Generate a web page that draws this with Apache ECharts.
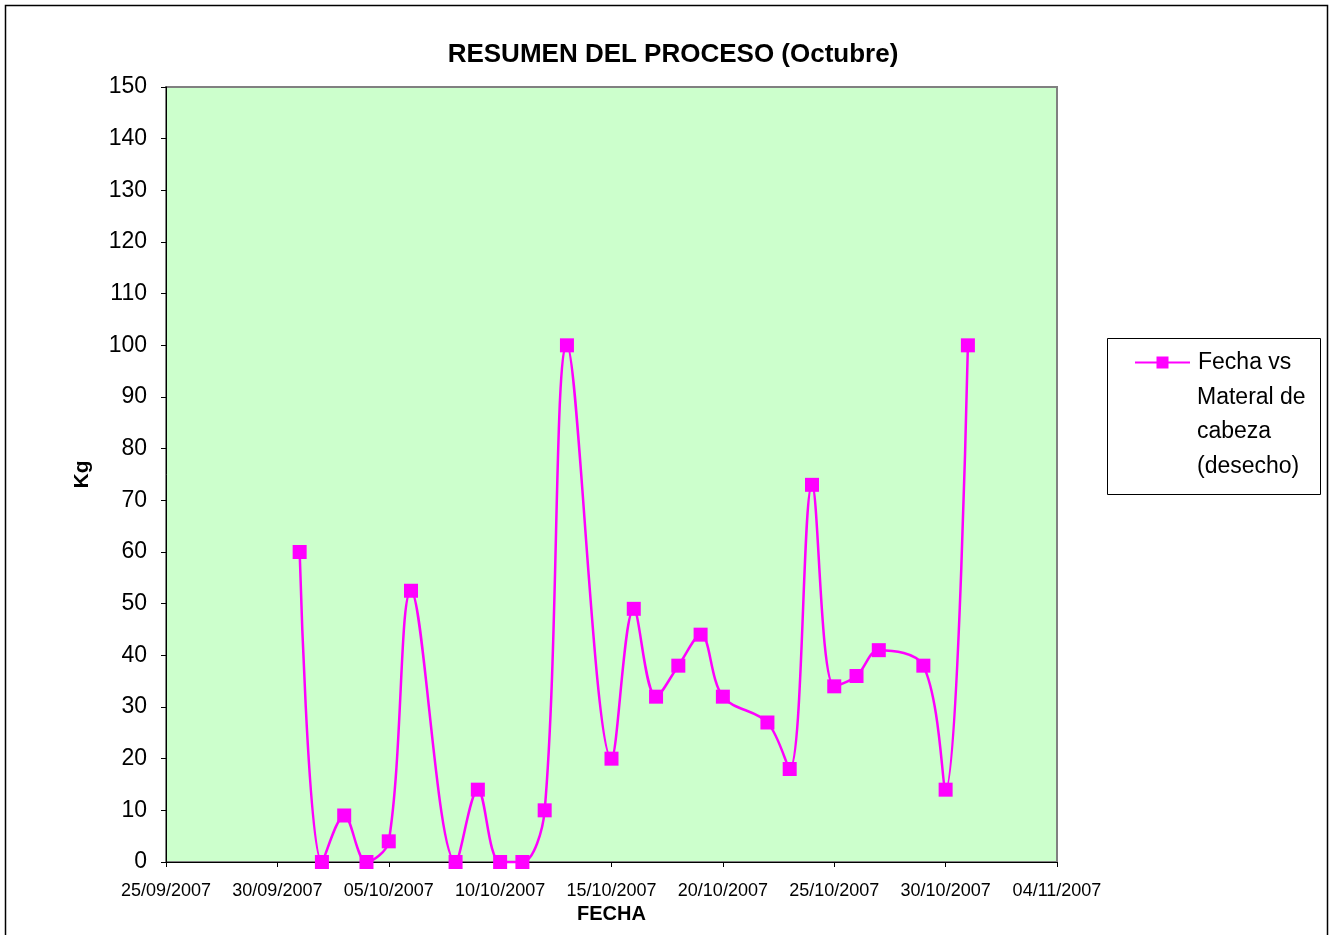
<!DOCTYPE html>
<html>
<head>
<meta charset="utf-8">
<title>RESUMEN DEL PROCESO (Octubre)</title>
<script src="https://cdn.jsdelivr.net/npm/echarts@6/dist/echarts.min.js"></script>
<style>
  html, body { margin: 0; padding: 0; background: #fff; }
  #chart { width: 1334px; height: 935px; }
</style>
</head>
<body>
<div id="chart"></div>
<script>
// 数据
var fechas = ['2007-10-01', '2007-10-02', '2007-10-03', '2007-10-04', '2007-10-05', '2007-10-06',
  '2007-10-08', '2007-10-09', '2007-10-10', '2007-10-11', '2007-10-12', '2007-10-13',
  '2007-10-15', '2007-10-16', '2007-10-17', '2007-10-18', '2007-10-19', '2007-10-20',
  '2007-10-22', '2007-10-23', '2007-10-24', '2007-10-25', '2007-10-26', '2007-10-27',
  '2007-10-29', '2007-10-30', '2007-10-31']
var material = [60, 0, 9, 0, 4, 52.5, 0, 14, 0, 0, 10, 100, 20, 49, 32, 38, 44, 32, 27, 18, 73, 34, 36, 41, 38, 14, 100]
var yTicks = [0, 150, 10]
var serieNombre = 'Fecha vs Materal de cabeza (desecho)'

// x 轴从 25/09/2007 开始按天计
var inicio = Date.UTC(2007, 8, 25)
var DIA = 86400000

function diaDe(str) {
  var p = str.split('-')
  return Math.round((Date.UTC(+p[0], +p[1] - 1, +p[2]) - inicio) / DIA)
}
function pad(n) {
  return n < 10 ? '0' + n : '' + n
}
function fmtFecha(v) {
  var d = new Date(inicio + v * DIA)
  return pad(d.getUTCDate()) + '/' + pad(d.getUTCMonth() + 1) + '/' + d.getUTCFullYear()
}

var puntos = fechas.map(function (f, i) {
  return [diaDe(f), material[i]]
})

var myChart = echarts.init(document.getElementById('chart'))
var fuente = '"Liberation Sans", Arial, sans-serif'

var option = {
  backgroundColor: '#fff',
  animation: false,
  title: {
    text: 'RESUMEN DEL PROCESO (Octubre)',
    left: 668,
    textAlign: 'center',
    top: 37,
    textStyle: { fontFamily: fuente, fontSize: 26, fontWeight: 'bold', color: '#000' }
  },
  legend: {
    left: 1134,
    top: 351,
    padding: 0,
    itemWidth: 55,
    itemHeight: 15,
    itemGap: 0,
    data: [serieNombre],
    formatter: function () { return 'Fecha vs' },
    textStyle: { fontFamily: fuente, fontSize: 23, color: '#000', padding: [0, 0, 0, 3] }
  },
  grid: {
    left: 166,
    right: 277,
    top: 87,
    bottom: 73,
    show: true,
    backgroundColor: '#CCFFCC',
    borderColor: '#808080',
    borderWidth: 2
  },
  xAxis: {
    type: 'value',
    min: 0,
    max: 40,
    interval: 5,
    name: 'FECHA',
    nameLocation: 'middle',
    nameGap: 41,
    nameTextStyle: { fontFamily: fuente, fontSize: 20, fontWeight: 'bold', color: '#000' },
    axisLine: { lineStyle: { color: '#000', width: 1 } },
    axisTick: { length: 5, lineStyle: { color: '#000' } },
    axisLabel: {
      formatter: fmtFecha,
      margin: 20,
      fontFamily: fuente,
      fontSize: 18,
      color: '#000',
      showMaxLabel: true,
      showMinLabel: true
    },
    splitLine: { show: false }
  },
  yAxis: {
    type: 'value',
    min: yTicks[0],
    max: yTicks[1],
    interval: yTicks[2],
    name: 'Kg',
    nameLocation: 'middle',
    nameGap: 73,
    nameRotate: 90,
    nameTextStyle: { fontFamily: fuente, fontSize: 21, fontWeight: 'bold', color: '#000' },
    axisLine: { show: true, lineStyle: { color: '#000', width: 1 } },
    axisTick: { show: true, length: 5, lineStyle: { color: '#000' } },
    axisLabel: { margin: 19, fontFamily: fuente, fontSize: 23, color: '#000' },
    splitLine: { show: false }
  },
  series: [
    {
      name: serieNombre,
      type: 'line',
      data: puntos,
      smooth: 0.35,
      clip: false,
      symbol: 'rect',
      symbolSize: 14,
      lineStyle: { color: '#FF00FF', width: 2.5 },
      itemStyle: { color: '#FF00FF', borderWidth: 0 }
    }
  ],
  graphic: [
    // 外框
    {
      type: 'rect',
      shape: { x: 5.5, y: 5.5, width: 1322, height: 945 },
      style: { fill: 'none', stroke: '#000', lineWidth: 1.5 },
      silent: true
    },
    // 图例框
    {
      type: 'rect',
      shape: { x: 1107.5, y: 338.5, width: 213, height: 156 },
      style: { fill: 'none', stroke: '#000', lineWidth: 1 },
      silent: true
    },
    {
      type: 'text',
      left: 1197,
      top: 380,
      style: {
        text: 'Materal de\ncabeza\n(desecho)',
        font: '23px "Liberation Sans", Arial, sans-serif',
        lineHeight: 34.5,
        fill: '#000'
      },
      silent: true
    }
  ]
}

myChart.setOption(option)
</script>
</body>
</html>
